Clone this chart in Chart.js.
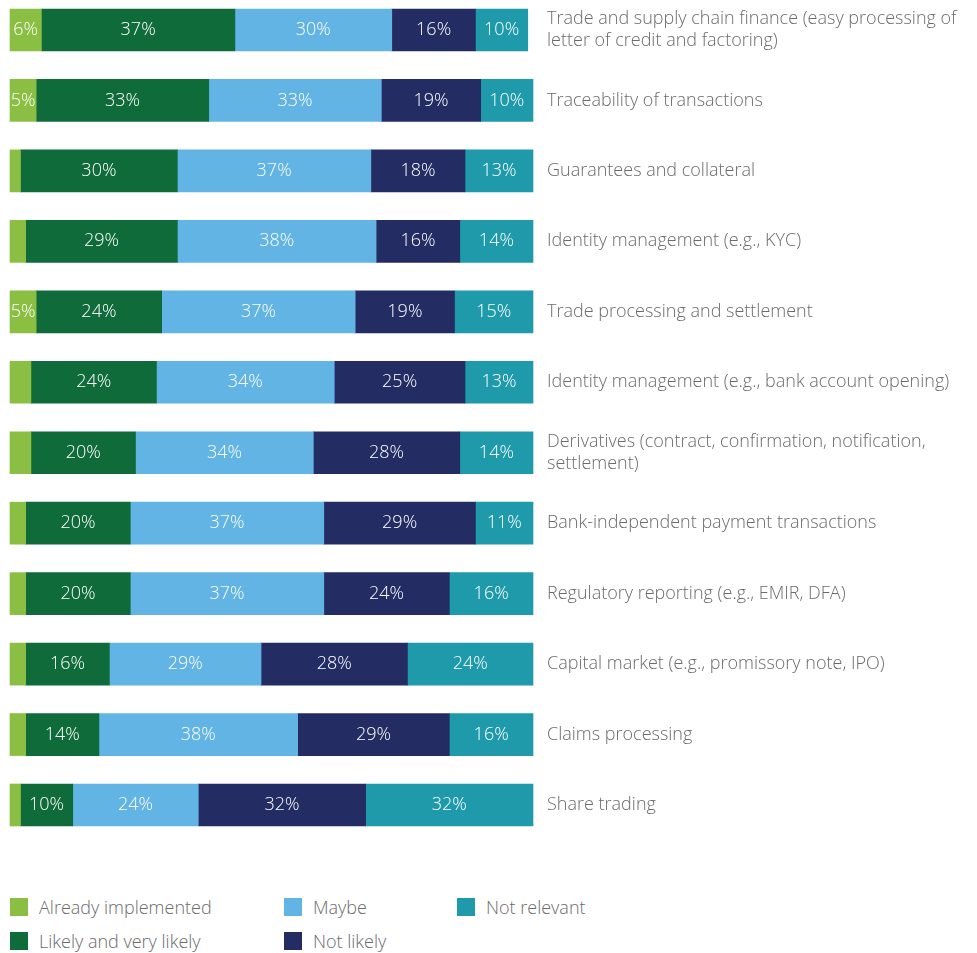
<!DOCTYPE html>
<html>
<head>
<meta charset="utf-8">
<script src="https://cdn.jsdelivr.net/npm/chart.js@4/dist/chart.umd.min.js"></script>
<style>
  html, body { margin: 0; padding: 0; background: #ffffff; }
  #wrap { position: relative; width: 977px; height: 953px; overflow: hidden; font-family: "Open Sans", "Noto Sans", sans-serif; }
  #chart { position: absolute; left: 0; top: 0; }
  .lg { position: absolute; font-size: 18px; color: #6b6b6b; font-weight: 300; line-height: 20px; white-space: nowrap; }
  .sw { position: absolute; width: 18px; height: 18px; }
</style>
</head>
<body>
<div id="wrap">
  <canvas id="chart" width="977" height="860"></canvas>
  <div id="legend"></div>
</div>
<script>
const categories = [
  ["Trade and supply chain finance (easy processing of", "letter of credit and factoring)"],
  "Traceability of transactions",
  "Guarantees and collateral",
  "Identity management (e.g., KYC)",
  "Trade processing and settlement",
  "Identity management (e.g., bank account opening)",
  ["Derivatives (contract, confirmation, notification,", "settlement)"],
  "Bank-independent payment transactions",
  "Regulatory reporting (e.g., EMIR, DFA)",
  "Capital market (e.g., promissory note, IPO)",
  "Claims processing",
  "Share trading"
];
const alreadyImplemented = [6, 5, 2, 3, 5, 4, 4, 3, 3, 3, 3, 2];
const likelyAndVeryLikely = [37, 33, 30, 29, 24, 24, 20, 20, 20, 16, 14, 10];
const maybe = [30, 33, 37, 38, 37, 34, 34, 37, 37, 29, 38, 24];
const notLikely = [16, 19, 18, 16, 19, 25, 28, 29, 24, 28, 29, 32];
const notRelevant = [10, 10, 13, 14, 15, 13, 14, 11, 16, 24, 16, 32];

const seriesNames = ["Already implemented", "Likely and very likely", "Maybe", "Not likely", "Not relevant"];
const seriesColors = ["#8bbf43", "#0f6b3a", "#62b4e4", "#232c63", "#1e9aaa"];
const seriesValues = [alreadyImplemented, likelyAndVeryLikely, maybe, notLikely, notRelevant];

const datasets = seriesValues.map((vals, k) => ({
  label: seriesNames[k],
  data: vals,
  backgroundColor: seriesColors[k],
  borderWidth: 0,
  barThickness: 42,
  clip: false
}));

const labelPlugin = {
  id: 'segLabels',
  afterDatasetsDraw(chart) {
    const ctx = chart.ctx;
    ctx.save();
    ctx.font = '300 18px "Open Sans", "Noto Sans", sans-serif';
    ctx.fillStyle = '#ffffff';
    ctx.textAlign = 'center';
    ctx.textBaseline = 'middle';
    chart.data.datasets.forEach((ds, di) => {
      const meta = chart.getDatasetMeta(di);
      meta.data.forEach((el, i) => {
        const raw = ds.data[i];
        if (raw >= 5) {
          ctx.fillText(raw + '%', (el.x + el.base) / 2, el.y);
        }
      });
    });
    ctx.restore();
  }
};

new Chart(document.getElementById('chart'), {
  type: 'bar',
  data: { labels: categories, datasets },
  options: {
    indexAxis: 'y',
    responsive: false,
    devicePixelRatio: 1,
    animation: false,
    layout: { padding: { left: 10, top: 30, bottom: 55, right: 0 } },
    plugins: { legend: { display: false }, tooltip: { enabled: false } },
    scales: {
      x: { stacked: true, min: 0, max: 100, display: false },
      y: {
        stacked: true,
        position: 'right',
        offset: false,
        grid: { display: false, drawTicks: false },
        border: { display: false },
        ticks: {
          color: '#6b6b6b',
          padding: 14,
          font: { family: '"Open Sans", "Noto Sans", sans-serif', size: 18, weight: 300, lineHeight: 1.22 }
        },
        afterFit(scale) { scale.width = 444; }
      }
    }
  },
  plugins: [labelPlugin]
});

// HTML legend (3 columns, column-major order)
const legendPos = [
  { x: 10, y: 898 }, { x: 10, y: 932 },
  { x: 284, y: 898 }, { x: 284, y: 932 },
  { x: 457, y: 898 }
];
const legendEl = document.getElementById('legend');
seriesNames.forEach((name, k) => {
  const p = legendPos[k];
  const sw = document.createElement('div');
  sw.className = 'sw';
  sw.style.left = p.x + 'px';
  sw.style.top = p.y + 'px';
  sw.style.background = seriesColors[k];
  legendEl.appendChild(sw);
  const t = document.createElement('div');
  t.className = 'lg';
  t.style.left = (p.x + 29) + 'px';
  t.style.top = (p.y - 1) + 'px';
  t.textContent = name;
  legendEl.appendChild(t);
});
</script>
</body>
</html>
